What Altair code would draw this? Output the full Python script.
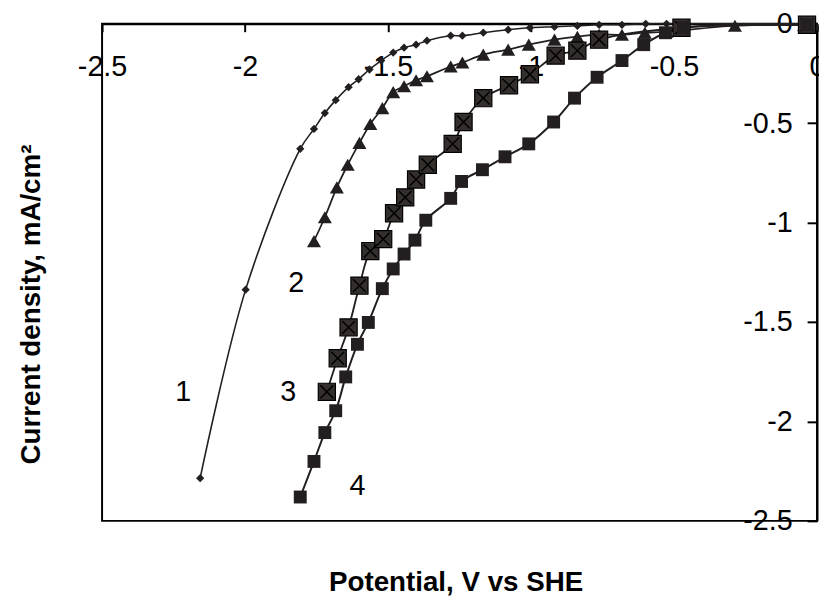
import altair as alt
import pandas as pd

# ---- data (potential V vs SHE, current density mA/cm2) ----
s1_x = [-2.157, -1.998, -1.807, -1.759, -1.721, -1.683, -1.638, -1.603, -1.565, -1.524,
        -1.482, -1.444, -1.402, -1.364, -1.281, -1.240, -1.167, -1.080, -1.004, -0.918,
        -0.838, -0.762, -0.682, -0.599, -0.526, -0.05]
s1_y = [-2.285, -1.337, -0.629, -0.529, -0.449, -0.384, -0.319, -0.279, -0.230, -0.185,
        -0.145, -0.120, -0.105, -0.085, -0.060, -0.060, -0.045, -0.030, -0.020, -0.015,
        -0.010, -0.005, -0.005, 0.0, 0.0, 0.0]

s2_x = [-1.759, -1.721, -1.679, -1.641, -1.600, -1.562, -1.520, -1.482, -1.444, -1.402,
        -1.364, -1.281, -1.240, -1.167, -1.080, -1.008, -0.918, -0.838, -0.762, -0.682,
        -0.602, -0.526, -0.287, -0.045, -0.010]
s2_y = [-1.093, -0.973, -0.823, -0.709, -0.599, -0.504, -0.424, -0.344, -0.314, -0.284,
        -0.264, -0.215, -0.195, -0.155, -0.130, -0.105, -0.080, -0.065, -0.055, -0.055,
        -0.045, -0.040, -0.010, -0.005, -0.005]

s3_x = [-1.714, -1.676, -1.638, -1.600, -1.562, -1.517, -1.479, -1.440, -1.402, -1.361,
        -1.274, -1.236, -1.167, -1.077, -1.004, -0.914, -0.838, -0.762, -0.474, -0.035]
s3_y = [-1.851, -1.682, -1.527, -1.317, -1.143, -1.083, -0.953, -0.873, -0.783, -0.709,
        -0.604, -0.494, -0.374, -0.309, -0.254, -0.160, -0.135, -0.080, -0.020, -0.005]

s4_x = [-1.807, -1.759, -1.721, -1.683, -1.648, -1.607, -1.569, -1.520, -1.482, -1.444,
        -1.406, -1.368, -1.281, -1.243, -1.170, -1.091, -1.008, -0.921, -0.848, -0.769,
        -0.682, -0.606, -0.530, -0.467, -0.035]
s4_y = [-2.380, -2.201, -2.056, -1.946, -1.776, -1.612, -1.502, -1.332, -1.233, -1.158,
        -1.088, -0.988, -0.878, -0.793, -0.734, -0.669, -0.604, -0.494, -0.374, -0.269,
        -0.185, -0.105, -0.045, -0.020, -0.005]

curve_labels = ["1", "2", "3", "4"]
curve_label_x = [-2.216, -1.821, -1.849, -1.607]
curve_label_y = [-1.851, -1.302, -1.851, -2.326]

axis_ticks = [-2.5, -2.0, -1.5, -1.0, -0.5, 0.0]

# ---- tables ----
frames = []
for name, xs, ys in [("1", s1_x, s1_y), ("2", s2_x, s2_y), ("3", s3_x, s3_y), ("4", s4_x, s4_y)]:
    frames.append(pd.DataFrame({"series": name, "x": xs, "y": ys}))
df = pd.concat(frames, ignore_index=True)
lab_df = pd.DataFrame({"label": curve_labels, "x": curve_label_x, "y": curve_label_y})

FONT = "Liberation Sans"
INK = "#231f20"
W, H = 722, 502

xscale = alt.Scale(domain=[-2.5, 0], nice=False, zero=False)
yscale = alt.Scale(domain=[-2.5, 0], nice=False, zero=False)

x_axis = alt.Axis(
    orient="bottom", offset=-H, values=axis_ticks, grid=False,
    tickSize=8, tickWidth=2, tickColor="black",
    domainColor="black", domainWidth=2,
    labelFontSize=29, labelFont=FONT, labelColor="black", labelPadding=21,
    labelFlush=False, labelOverlap=False, labelExpr="'' + datum.value",
    title="Potential, V vs SHE", titleFont=FONT, titleFontSize=28, titleFontWeight="bold",
    titleColor="black", titleX=357, titleY=564, titleAlign="center", titleBaseline="middle",
)
y_axis = alt.Axis(
    orient="left", offset=-W, values=axis_ticks, grid=False,
    tickSize=10, tickWidth=2, tickColor="black",
    domainColor="black", domainWidth=2,
    labelFontSize=29, labelFont=FONT, labelColor="black", labelPadding=15,
    labelFlush=False, labelOverlap=False, labelExpr="'' + datum.value",
    title="Current density, mA/cm²", titleFont=FONT, titleFontSize=28, titleFontWeight="bold",
    titleColor="black", titleX=-793, titleY=283, titleAngle=270,
    titleAlign="center", titleBaseline="middle",
)

base = alt.Chart(df)
X = alt.X("x:Q", scale=xscale, axis=x_axis)
Y = alt.Y("y:Q", scale=yscale, axis=y_axis)

lines = base.mark_line(interpolate="catmull-rom", color=INK).encode(
    x=X, y=Y, detail="series:N",
    strokeWidth=alt.StrokeWidth("series:N", scale=alt.Scale(domain=["1", "2", "3", "4"], range=[1.6, 2, 2, 2]), legend=None),
)

p1 = base.transform_filter("datum.series == '1'").mark_point(
    shape="diamond", filled=True, size=70, color=INK, opacity=1).encode(x="x:Q", y="y:Q")
p2 = base.transform_filter("datum.series == '2'").mark_point(
    shape="triangle-up", filled=True, size=200, color=INK, opacity=1).encode(x="x:Q", y="y:Q")
p3 = base.transform_filter("datum.series == '3'").mark_point(
    shape="square", filled=True, size=300, fill="#342f2d", stroke="black", strokeWidth=1.2, opacity=1).encode(x="x:Q", y="y:Q")
p3x = base.transform_filter("datum.series == '3'").mark_point(
    shape="M-0.75,-0.75L0.75,0.75M0.75,-0.75L-0.75,0.75", filled=False, size=300,
    stroke="black", strokeWidth=1.5, opacity=1).encode(x="x:Q", y="y:Q")
p4 = base.transform_filter("datum.series == '4'").mark_point(
    shape="square", filled=True, size=170, color=INK, opacity=1).encode(x="x:Q", y="y:Q")

labels = alt.Chart(lab_df).mark_text(
    font=FONT, fontSize=29, color="black", align="center", baseline="middle"
).encode(x="x:Q", y="y:Q", text="label:N")

chart = alt.layer(lines, p1, p2, p3, p3x, p4, labels).properties(
    width=W, height=H,
    autosize=alt.AutoSizeParams(type="none"),
    padding={"left": 95, "top": 13, "right": 2, "bottom": 80},
    background="white",
).configure_view(stroke="black", strokeWidth=2, strokeOpacity=1)

chart.save("out.html", embed_options={"renderer": "svg", "actions": False})
